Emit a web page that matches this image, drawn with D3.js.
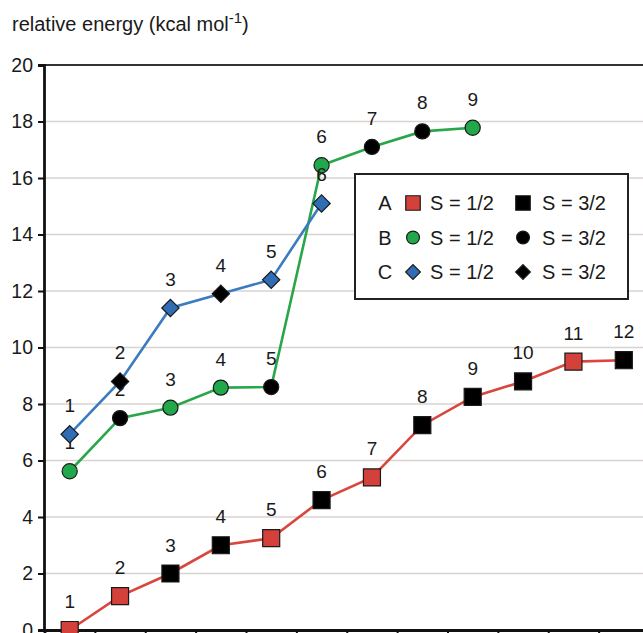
<!DOCTYPE html>
<html>
<head>
<meta charset="utf-8">
<script src="https://cdn.jsdelivr.net/npm/d3@7"></script>
<style>
  body { margin: 0; background: #fff; }
  svg text { font-family: "Liberation Sans", Arial, sans-serif; fill: #1a1a1a; }
</style>
</head>
<body>
<svg id="chart" width="643" height="633"></svg>
<script>
// values
var yTicks = [0, 2, 4, 6, 8, 10, 12, 14, 16, 18, 20];
var seriesA = [0.0, 1.2, 2.0, 3.0, 3.25, 4.6, 5.4, 7.25, 8.25, 8.8, 9.5, 9.55];
var spinA   = [1, 1, 3, 3, 1, 3, 1, 3, 3, 3, 1, 3];
var seriesB = [5.62, 7.5, 7.87, 8.58, 8.6, 16.45, 17.1, 17.65, 17.78];
var spinB   = [1, 3, 1, 1, 3, 1, 3, 3, 1];
var seriesC = [6.93, 8.8, 11.4, 11.9, 12.4, 15.1];
var spinC   = [1, 3, 1, 3, 1, 1];
var legendRows = ["A", "B", "C"];
var legendText = ["S = 1/2", "S = 3/2"];

var svg = d3.select("#chart");
var W = +svg.attr("width");

var x = d3.scaleLinear().domain([0.5, 12.5]).range([44.5, 649]);
var y = d3.scaleLinear().domain([0, 20]).range([630, 65]);

// grid
svg.append("g").selectAll("line")
    .data(yTicks.filter(d => d > 0 && d < 20))
    .enter().append("line")
    .attr("x1", 44).attr("x2", W)
    .attr("y1", d => y(d)).attr("y2", d => y(d))
    .style("stroke", "#dad2cf").style("stroke-width", 1.5);

// top border
svg.append("line")
    .attr("x1", 44).attr("x2", W)
    .attr("y1", y(20)).attr("y2", y(20))
    .style("stroke", "#333").style("stroke-width", 2);

// y axis
var yAxis = svg.append("g")
    .attr("transform", "translate(44,0)")
    .call(d3.axisLeft(y).tickValues(yTicks).tickSize(6).tickPadding(5));
yAxis.select(".domain").style("stroke", "#111").style("stroke-width", 2.8);
yAxis.selectAll(".tick line").style("stroke", "#111").style("stroke-width", 2);
yAxis.selectAll("text").style("font-size", "19.5px").attr("fill", "#1a1a1a");

// x axis
var xAxis = svg.append("g")
    .attr("transform", "translate(0," + y(0) + ")")
    .call(d3.axisBottom(x).tickValues(d3.range(0.5, 13, 1)).tickSize(6).tickFormat(""));
xAxis.select(".domain").style("stroke", "#111").style("stroke-width", 2.8);
xAxis.selectAll(".tick line").style("stroke", "#111").style("stroke-width", 2);

// title
var title = svg.append("text").attr("x", 12).attr("y", 31).style("font-size", "20px");
title.append("tspan").text("relative energy (kcal mol");
title.append("tspan").attr("dy", -8).style("font-size", "15px").text("-1");
title.append("tspan").attr("dy", 8).text(")");

var series = [
  {vals: seriesA, spin: spinA, line: "#d8463d", fill: "#d4403a", shape: "square"},
  {vals: seriesB, spin: spinB, line: "#2aa64a", fill: "#21a84a", shape: "circle"},
  {vals: seriesC, spin: spinC, line: "#3b7cc0", fill: "#2f6eb4", shape: "diamond"}
];

function marker(sel, shape, big) {
  var k = big ? 1 : 0.85;
  if (shape === "square") {
    sel.attr("d", d3.symbol().type(d3.symbolSquare).size(290 * k * k));
  } else if (shape === "circle") {
    sel.attr("d", d3.symbol().type(d3.symbolCircle).size(180 * k * k));
  } else {
    sel.attr("d", d3.symbol().type(d3.symbolSquare).size(150 * k * k));
  }
}

var line = d3.line().x((d, i) => x(i + 1)).y(d => y(d));

series.forEach(function(s) {
  var g = svg.append("g");
  g.append("path")
      .attr("d", line(s.vals))
      .style("fill", "none")
      .style("stroke", s.line)
      .style("stroke-width", 2.6);

  g.selectAll(".pt")
      .data(s.vals)
      .enter().append("path")
      .attr("class", "pt")
      .call(marker, s.shape, true)
      .attr("transform", (d, i) => "translate(" + x(i + 1) + "," + y(d) + ")" + (s.shape === "diamond" ? " rotate(45)" : ""))
      .style("fill", (d, i) => s.spin[i] === 1 ? s.fill : "#000")
      .style("stroke", "#1a1a1a")
      .style("stroke-width", 1.2);

  g.selectAll(".lbl")
      .data(s.vals)
      .enter().append("text")
      .attr("class", "lbl")
      .attr("x", (d, i) => x(i + 1))
      .attr("y", d => y(d) - 22)
      .attr("text-anchor", "middle")
      .style("font-size", "19px")
      .text((d, i) => i + 1);
});

// legend
var lg = svg.append("g");
lg.append("rect")
    .attr("x", 355).attr("y", 174).attr("width", 273).attr("height", 125)
    .style("fill", "#fff").style("stroke", "#222").style("stroke-width", 2);

var rowY = [203, 237.5, 272];
legendRows.forEach(function(r, i) {
  var s = series[i];
  lg.append("text").attr("x", 385).attr("y", rowY[i] + 7)
      .attr("text-anchor", "middle").style("font-size", "20px").text(r);
  [1, 3].forEach(function(sp, j) {
    var mx = j === 0 ? 413 : 523;
    lg.append("path")
        .call(marker, s.shape, false)
        .attr("transform", "translate(" + mx + "," + rowY[i] + ")" + (s.shape === "diamond" ? " rotate(45)" : ""))
        .style("fill", sp === 1 ? s.fill : "#000")
        .style("stroke", "#1a1a1a").style("stroke-width", 1.2);
    lg.append("text").attr("x", j === 0 ? 430 : 542).attr("y", rowY[i] + 7)
        .style("font-size", "20px").text(legendText[j]);
  });
});
</script>
</body>
</html>
